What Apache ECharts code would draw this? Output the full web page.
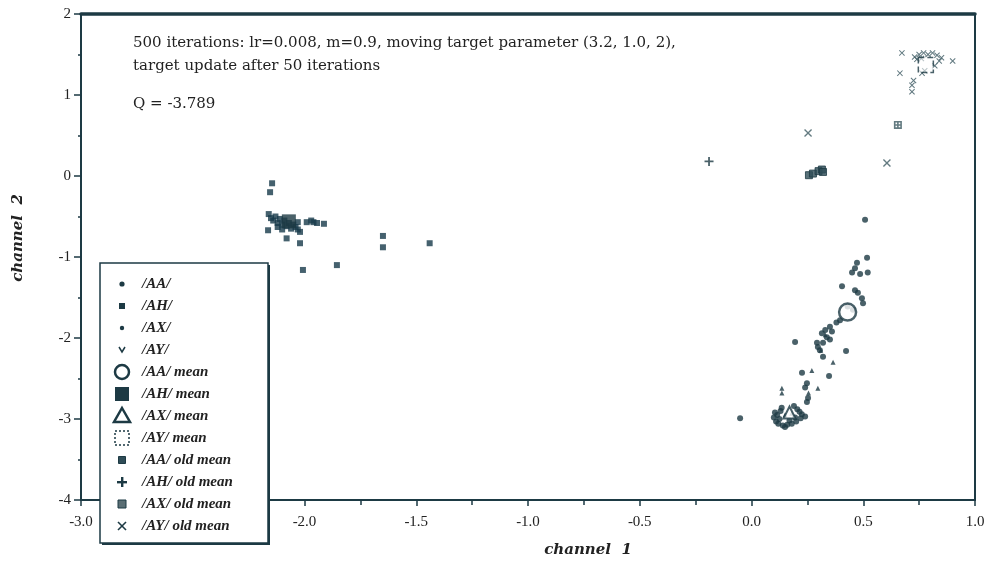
<!DOCTYPE html>
<html>
<head>
<meta charset="utf-8">
<script src="https://cdn.jsdelivr.net/npm/echarts/dist/echarts.min.js"></script>
<style>
  html, body { margin: 0; padding: 0; background: #fff; }
  #chart { width: 991px; height: 562px; }
</style>
</head>
<body>
<div id="chart"></div>
<script>
// ---- data (channel 1, channel 2) ----
const aaPoints = [
  [0.508, -0.54], [0.517, -1.01], [0.472, -1.07], [0.463, -1.14], [0.450, -1.19], [0.520, -1.19],
  [0.486, -1.21], [0.405, -1.36], [0.463, -1.41], [0.476, -1.44], [0.494, -1.51], [0.499, -1.57],
  [0.454, -1.65], [0.430, -1.61], [0.396, -1.78], [0.380, -1.81], [0.351, -1.86], [0.360, -1.92],
  [0.330, -1.90], [0.315, -1.94], [0.337, -1.99], [0.351, -2.02], [0.320, -2.06], [0.293, -2.06],
  [0.297, -2.11], [0.306, -2.15], [0.195, -2.05], [0.423, -2.16], [0.320, -2.23], [0.226, -2.43],
  [0.347, -2.47], [0.248, -2.56], [0.240, -2.61], [0.253, -2.74], [0.248, -2.79], [-0.051, -2.99],
  [0.100, -2.98], [0.110, -3.03], [0.120, -3.06], [0.140, -3.08], [0.160, -3.07], [0.180, -3.06],
  [0.200, -3.03], [0.220, -2.99], [0.225, -2.94], [0.205, -2.88], [0.190, -2.84], [0.130, -2.90],
  [0.115, -2.95], [0.150, -3.10], [0.215, -2.91], [0.240, -2.97], [0.135, -2.86], [0.105, -2.92],
  [0.170, -3.02], [0.195, -2.98], [0.125, -3.00]
];
const ahPoints = [
  [-2.145, -0.09], [-2.154, -0.20], [-1.990, -0.57], [-1.944, -0.58], [-1.913, -0.59], [-2.163, -0.67],
  [-2.080, -0.77], [-2.020, -0.69], [-2.020, -0.83], [-1.649, -0.74], [-1.649, -0.88], [-1.440, -0.83],
  [-1.855, -1.10], [-2.007, -1.16], [-2.160, -0.47], [-2.150, -0.52], [-2.140, -0.55], [-2.130, -0.50],
  [-2.120, -0.58], [-2.110, -0.53], [-2.100, -0.60], [-2.090, -0.55], [-2.080, -0.62], [-2.070, -0.58],
  [-2.060, -0.65], [-2.050, -0.60], [-2.040, -0.63], [-2.030, -0.57], [-2.030, -0.66], [-2.120, -0.63],
  [-2.100, -0.66], [-1.970, -0.55], [-1.960, -0.57]
];
const axPoints = [
  [0.365, -2.30], [0.297, -2.62], [0.136, -2.62], [0.136, -2.68], [0.255, -2.68], [0.310, -2.15],
  [0.270, -2.40], [0.150, -2.95], [0.180, -2.93], [0.330, -1.96]
];
const ayPoints = [
  [0.673, 1.52], [0.730, 1.47], [0.750, 1.50], [0.770, 1.52], [0.790, 1.50], [0.810, 1.52],
  [0.830, 1.49], [0.850, 1.46], [0.840, 1.42], [0.820, 1.36], [0.900, 1.42], [0.664, 1.27],
  [0.763, 1.27], [0.775, 1.30], [0.718, 1.12], [0.718, 1.04], [0.725, 1.18], [0.740, 1.44], [0.760, 1.45]
];
const aaMean = [[0.43, -1.68]];
const ahMean = [[-2.07, -0.56]];
const axMean = [[0.17, -2.92]];
const ayMean = [[0.78, 1.37]];
const aaOldMean = [[0.257, 0.01], [0.275, 0.03], [0.300, 0.06], [0.315, 0.08], [0.320, 0.05]];
const ahOldMean = [[-0.19, 0.18]];
const axOldMean = [[0.655, 0.63]];
const ayOldMean = [[0.253, 0.53], [0.606, 0.16]];

const legendLabels = [
  '/AA/', '/AH/', '/AX/', '/AY/',
  '/AA/ mean', '/AH/ mean', '/AX/ mean', '/AY/ mean',
  '/AA/ old mean', '/AH/ old mean', '/AX/ old mean', '/AY/ old mean'
];
const noteLines = [
  '500 iterations: lr=0.008, m=0.9, moving target parameter (3.2, 1.0, 2),',
  'target update after 50 iterations'
];
const qLabel = 'Q = -3.789';

// ---- styling ----
const INK = '#1d3a44';
const TEXT = '#222';
const SERIF = '"Liberation Serif", "DejaVu Serif", serif';
const WIDE_SERIF = '"DejaVu Serif", "Liberation Serif", serif';
const X_MARK = 'path://M0,1.2L1.2,0L5,3.8L8.8,0L10,1.2L6.2,5L10,8.8L8.8,10L5,6.2L1.2,10L0,8.8L3.8,5Z';
const PLUS = 'path://M4,0H6V4H10V6H6V10H4V6H0V4H4Z';
const HATCH = 'path://M0,0H10V10H0Z M2,2V4H4V2Z M6,2V4H8V2Z M2,6V8H4V6Z M6,6V8H8V6Z';

const chart = echarts.init(document.getElementById('chart'), null, { renderer: 'canvas' });

// legend box drawn as graphic elements on top of the axes
const LX = 100, LY = 263, LW = 168, LH = 280;
const rowY = i => 284 + i * 22;
const SX = 122, TX = 142;
const legendItems = [
  { type: 'rect', shape: { x: LX + 2, y: LY + 2, width: LW, height: LH }, style: { fill: INK } },
  { type: 'rect', shape: { x: LX, y: LY, width: LW, height: LH }, style: { fill: '#fff', stroke: INK, lineWidth: 1.5 } },
  { type: 'circle', shape: { cx: SX, cy: rowY(0), r: 2.6 }, style: { fill: INK } },
  { type: 'rect', shape: { x: SX - 3, y: rowY(1) - 3, width: 6, height: 6 }, style: { fill: INK } },
  { type: 'circle', shape: { cx: SX, cy: rowY(2), r: 2.2 }, style: { fill: INK } },
  { type: 'polyline', shape: { points: [[SX - 3, rowY(3) - 3], [SX, rowY(3) + 2], [SX + 3, rowY(3) - 3]] }, style: { stroke: INK, lineWidth: 1.5, fill: null } },
  { type: 'circle', shape: { cx: SX, cy: rowY(4), r: 7 }, style: { fill: '#fff', stroke: INK, lineWidth: 2.5 } },
  { type: 'rect', shape: { x: SX - 7, y: rowY(5) - 7, width: 14, height: 14 }, style: { fill: INK } },
  { type: 'polygon', shape: { points: [[SX, rowY(6) - 8], [SX + 8, rowY(6) + 6], [SX - 8, rowY(6) + 6]] }, style: { fill: '#fff', stroke: INK, lineWidth: 2.5 } },
  { type: 'rect', shape: { x: SX - 7, y: rowY(7) - 7, width: 14, height: 14 }, style: { fill: '#fff', stroke: INK, lineWidth: 1.5, lineDash: [2, 2] } },
  { type: 'rect', shape: { x: SX - 3.5, y: rowY(8) - 3.5, width: 7, height: 7 }, style: { fill: '#2f4d57', stroke: INK, lineWidth: 1 } },
  { type: 'rect', shape: { x: SX - 1, y: rowY(9) - 5, width: 2.4, height: 10 }, style: { fill: INK } },
  { type: 'rect', shape: { x: SX - 5, y: rowY(9) - 1, width: 10, height: 2.4 }, style: { fill: INK } },
  { type: 'rect', shape: { x: SX - 4, y: rowY(10) - 4, width: 8, height: 8 }, style: { fill: '#5a6e74', stroke: INK, lineWidth: 1 } },
  { type: 'line', shape: { x1: SX - 4, y1: rowY(11) - 4, x2: SX + 4, y2: rowY(11) + 4 }, style: { stroke: INK, lineWidth: 1.6 } },
  { type: 'line', shape: { x1: SX + 4, y1: rowY(11) - 4, x2: SX - 4, y2: rowY(11) + 4 }, style: { stroke: INK, lineWidth: 1.6 } }
];
legendLabels.forEach((t, i) => {
  legendItems.push({
    type: 'text', x: TX, y: rowY(i),
    style: { text: t, font: 'italic bold 15px ' + SERIF, fill: TEXT, verticalAlign: 'middle', align: 'left' }
  });
});
legendItems.forEach(el => { el.z = 100; el.zlevel = 1; });

const noteFont = '15px ' + WIDE_SERIF;
const nameFont = 'italic bold 15px ' + WIDE_SERIF;
const graphic = [
  { type: 'group', z: 100, zlevel: 1, children: legendItems },
  { type: 'text', x: 133, y: 43, z: 50, style: { text: noteLines[0], font: noteFont, fill: TEXT, verticalAlign: 'middle' } },
  { type: 'text', x: 133, y: 66, z: 50, style: { text: noteLines[1], font: noteFont, fill: TEXT, verticalAlign: 'middle' } },
  { type: 'text', x: 133, y: 104, z: 50, style: { text: qLabel, font: noteFont, fill: TEXT, verticalAlign: 'middle' } },
  { type: 'text', x: 588, y: 550, z: 50, style: { text: 'channel  1', font: nameFont, fill: TEXT, align: 'center', verticalAlign: 'middle' } },
  { type: 'text', x: 18, y: 238, rotation: Math.PI / 2, z: 50, style: { text: 'channel  2', font: nameFont, fill: TEXT, align: 'center', verticalAlign: 'middle' } }
];

const scatter = (name, data, symbol, size, itemStyle, z) => ({
  name, type: 'scatter', data, symbol, symbolSize: size, itemStyle, z: z || 2,
  emphasis: { disabled: true }, silent: true
});

chart.setOption({
  animation: false,
  backgroundColor: '#fff',
  grid: { left: 81, right: 16, top: 14, bottom: 62, show: true, borderColor: INK, borderWidth: 1.5 },
  xAxis: [
    {
      type: 'value', min: -3, max: 1, interval: 0.5,
      axisLine: { show: true, onZero: false, lineStyle: { color: INK, width: 2 } },
      axisTick: { show: true, inside: false, length: 6, lineStyle: { color: INK, width: 1.5 } },
      minorTick: { show: true, splitNumber: 2, length: 5, lineStyle: { color: INK, width: 1.5 } },
      splitLine: { show: false },
      axisLabel: { margin: 15, color: TEXT, fontFamily: SERIF, fontSize: 15, formatter: v => v.toFixed(1) }
    },
    {
      type: 'value', position: 'top', min: -3, max: 1,
      axisLine: { show: true, onZero: false, lineStyle: { color: INK, width: 3.5 } },
      axisTick: { show: false }, axisLabel: { show: false }, splitLine: { show: false }
    }
  ],
  yAxis: [
    {
      type: 'value', min: -4, max: 2, interval: 1,
      axisLine: { show: true, onZero: false, lineStyle: { color: INK, width: 2 } },
      axisTick: { show: true, inside: false, length: 7, lineStyle: { color: INK, width: 1.5 } },
      minorTick: { show: true, splitNumber: 2, length: 3, lineStyle: { color: INK, width: 1.5 } },
      splitLine: { show: false },
      axisLabel: { margin: 10, color: TEXT, fontFamily: SERIF, fontSize: 15 }
    },
    {
      type: 'value', position: 'right', min: -4, max: 2,
      axisLine: { show: true, onZero: false, lineStyle: { color: INK, width: 2 } },
      axisTick: { show: false }, axisLabel: { show: false }, splitLine: { show: false }
    }
  ],
  series: [
    scatter('/AA/', aaPoints, 'circle', 6, { color: INK }),
    scatter('/AH/', ahPoints, 'rect', 6, { color: '#17394a' }),
    scatter('/AX/', axPoints, 'triangle', 5, { color: INK }),
    scatter('/AY/', ayPoints, X_MARK, 6, { color: '#3a5860' }),
    scatter('/AA/ old mean', aaOldMean, 'rect', 7, { color: '#2f4d57', borderColor: INK, borderWidth: 1 }, 3),
    scatter('/AH/ old mean', ahOldMean, PLUS, 9, { color: INK }, 3),
    scatter('/AX/ old mean', axOldMean, HATCH, 8, { color: '#3d5a62' }, 3),
    scatter('/AY/ old mean', ayOldMean, X_MARK, 8, { color: '#3d5a62' }, 3),
    scatter('/AA/ mean', aaMean, 'circle', 17, { color: '#fff', borderColor: INK, borderWidth: 2.5 }, 5),
    scatter('/AH/ mean', ahMean, 'rect', 14, { color: INK }, 5),
    scatter('/AX/ mean', axMean, 'triangle', 12, { color: '#fff', borderColor: INK, borderWidth: 2 }, 5),
    scatter('/AY/ mean', ayMean, 'rect', 15, { color: 'rgba(255,255,255,0.7)', borderColor: INK, borderWidth: 1.5, borderType: 'dashed' }, 5)
  ],
  graphic
});
</script>
</body>
</html>
